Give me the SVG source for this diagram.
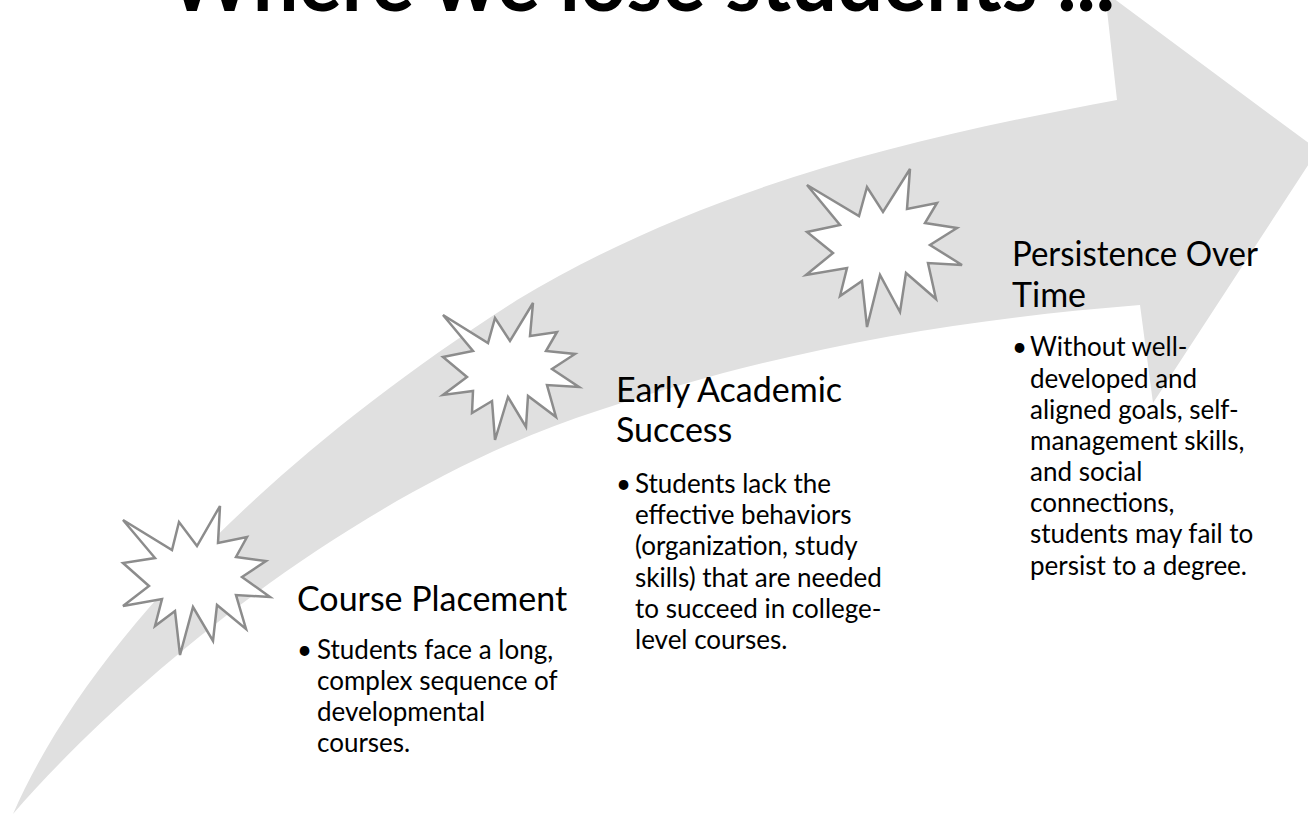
<svg xmlns="http://www.w3.org/2000/svg" width="1308" height="815" viewBox="0 0 1308 815">
  <style>
    .band { fill: #e0e0e0; stroke: none; }
    .burst { fill: #ffffff; stroke: #8c8c8c; stroke-width: 2.5; stroke-linejoin: miter; }
    .title { font-family: Lato, "Liberation Sans", sans-serif; font-weight: bold; font-size: 84px; fill: #000000; }
    .head { font-family: Lato, "Liberation Sans", sans-serif; font-size: 34px; fill: #000000; }
    .body { font-family: Lato, "Liberation Sans", sans-serif; font-size: 26px; fill: #000000; }
  </style>

  <rect width="1308" height="815" fill="#ffffff"/>

  <!-- curved progress arrow -->
  <g id="connectors">
    <path class="band" d="M13,814 C80,660 250,470 517,300 C700,190 900,140 1117,100 L1105,-8 L1318,150 L1153,403 L1140,305 C950,320 780,350 600,410 C350,490 120,690 13,814 Z"/>
  </g>

  <!-- title, partly above the top edge, drawn over the arrow -->
  <text class="title" x="168" y="11" textLength="947" lengthAdjust="spacingAndGlyphs">Where we lose students ...</text>

  <!-- stage 1 -->
  <g id="course-placement">
    <polygon class="burst" points="123,520 172,550 179,522 197,546 220,506 218,543 247,537 236,557 266,561 242,577 270,597 236,595 246,629 217,605 213,641 193,607 180,655 175,611 155,626 162,599 123,606 149,586 123,563 155,558"/>
    <text class="head" x="297" y="611">Course Placement</text>
    <text class="body" x="297" y="659">•</text>
    <text class="body" x="317" y="659">Students face a long,</text>
    <text class="body" x="317" y="690">complex sequence of</text>
    <text class="body" x="317" y="721">developmental</text>
    <text class="body" x="317" y="752">courses.</text>
  </g>

  <!-- stage 2 -->
  <g id="early-academic-success">
    <polygon class="burst" points="443,315 488,343 495,318 510,341 533,303 530,336 557,332 546,351 575,354 552,369 579,387 547,385 556,417 528,396 526,427 508,397 495,440 492,401 472,413 473,391 443,395 467,377 443,357 473,351"/>
    <text class="head" x="616" y="402">Early Academic</text>
    <text class="head" x="616" y="442">Success</text>
    <text class="body" x="616" y="493">•</text>
    <text class="body" x="635" y="493">Students lack the</text>
    <text class="body" x="635" y="524">effective behaviors</text>
    <text class="body" x="635" y="555">(organization, study</text>
    <text class="body" x="635" y="587">skills) that are needed</text>
    <text class="body" x="635" y="618">to succeed in college-</text>
    <text class="body" x="635" y="649">level courses.</text>
  </g>

  <!-- stage 3 -->
  <g id="persistence-over-time">
    <polygon class="burst" points="807,185 859,216 867,187 883,212 910,169 907,209 937,203 925,223 957,228 930,245 962,265 928,263 936,299 906,273 900,312 880,275 867,327 862,281 840,296 847,268 806,275 833,253 807,232 840,225"/>
    <text class="head" x="1012" y="266" textLength="246" lengthAdjust="spacingAndGlyphs">Persistence Over</text>
    <text class="head" x="1012" y="307">Time</text>
    <text class="body" x="1012" y="356">•</text>
    <text class="body" x="1030" y="356">Without well-</text>
    <text class="body" x="1030" y="388">developed and</text>
    <text class="body" x="1030" y="419">aligned goals, self-</text>
    <text class="body" x="1030" y="450">management skills,</text>
    <text class="body" x="1030" y="481">and social</text>
    <text class="body" x="1030" y="512">connections,</text>
    <text class="body" x="1030" y="543">students may fail to</text>
    <text class="body" x="1030" y="575">persist to a degree.</text>
  </g>
</svg>
